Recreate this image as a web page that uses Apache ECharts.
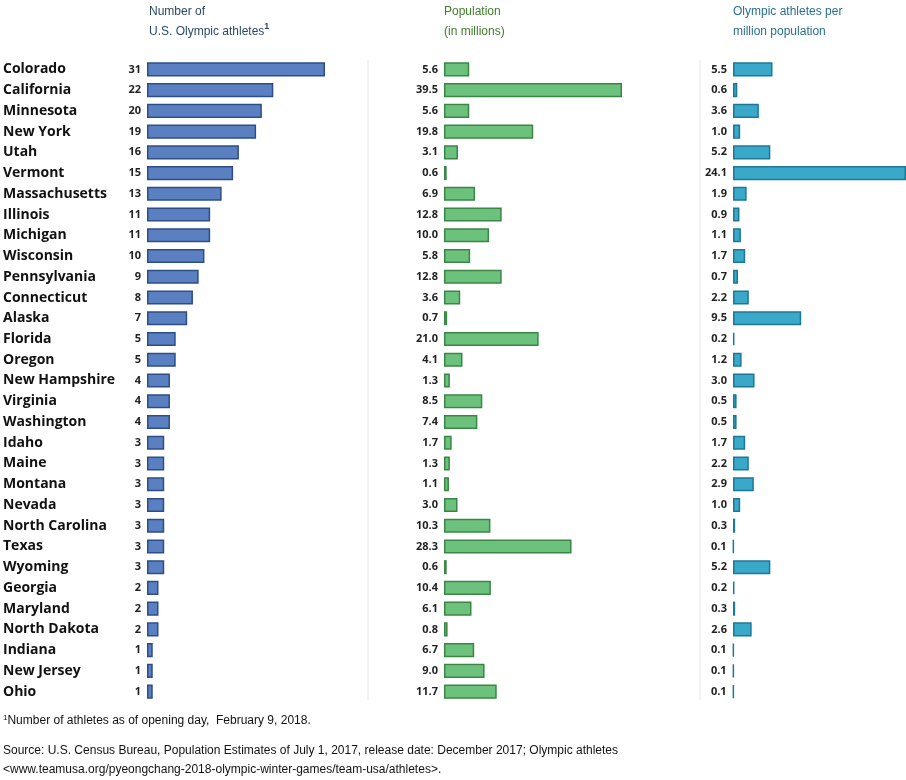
<!DOCTYPE html>
<html><head><meta charset="utf-8">
<script src="https://cdn.jsdelivr.net/npm/echarts@6/dist/echarts.min.js"></script>
<style>html,body{margin:0;padding:0;background:#fff}#c{width:906px;height:780px}</style>
</head><body><div id="c"></div>
<script>
var states = ['Colorado','California','Minnesota','New York','Utah','Vermont','Massachusetts','Illinois','Michigan','Wisconsin','Pennsylvania','Connecticut','Alaska','Florida','Oregon','New Hampshire','Virginia','Washington','Idaho','Maine','Montana','Nevada','North Carolina','Texas','Wyoming','Georgia','Maryland','North Dakota','Indiana','New Jersey','Ohio'];
var athletes = [31,22,20,19,16,15,13,11,11,10,9,8,7,5,5,4,4,4,3,3,3,3,3,3,3,2,2,2,1,1,1];
var population = [5.6,39.5,5.6,19.8,3.1,0.6,6.9,12.8,10.0,5.8,12.8,3.6,0.7,21.0,4.1,1.3,8.5,7.4,1.7,1.3,1.1,3.0,10.3,28.3,0.6,10.4,6.1,0.8,6.7,9.0,11.7];
var perMillion = [5.5,0.6,3.6,1.0,5.2,24.1,1.9,0.9,1.1,1.7,0.7,2.2,9.5,0.2,1.2,3.0,0.5,0.5,1.7,2.2,2.9,1.0,0.3,0.1,5.2,0.2,0.3,2.6,0.1,0.1,0.1];

var font = "'Liberation Sans Narrow','Open Sans',sans-serif";
var chart = echarts.init(document.getElementById('c'));
var top0 = 59, h = 643;
var panels = [
  {left:147, width:178, max:31, data:athletes, fill:'#5b80c2', line:'#2c4d86', dec:0},
  {left:444, width:178, max:39.5, data:population, fill:'#6cc27c', line:'#3a8646', dec:1},
  {left:733, width:173, max:24.1, data:perMillion, fill:'#3aa9c9', line:'#1d7896', dec:1}
];
var grid = [], xAxis = [], yAxis = [], series = [];
panels.forEach(function (p, i) {
  grid.push({left:p.left, top:top0, width:p.width, height:h});
  xAxis.push({gridIndex:i, type:'value', min:0, max:p.max, show:false});
  yAxis.push({gridIndex:i, type:'category', data:states, inverse:true,
    axisLine:{show:false}, axisTick:{show:false},
    axisLabel:{show:i===0, align:'left', margin:144, fontFamily:font, fontWeight:'bold', fontSize:14, color:'#111'}});
  series.push({type:'bar', xAxisIndex:i, yAxisIndex:i, data:p.data, barCategoryGap:'32%',
    itemStyle:{color:p.fill, borderColor:p.line, borderWidth:1.5},
    label:{show:true, position:'left', distance:6, fontFamily:font, fontWeight:'bold', fontSize:11, color:'#222',
      formatter:function (d) { return d.value.toFixed(p.dec); }}});
});
function head(x, lines, color) {
  return {type:'text', left:x, top:2, style:{text:lines, fill:color, font:'bold 14px ' + font, lineHeight:20}};
}
chart.setOption({
  animation:false,
  grid:grid, xAxis:xAxis, yAxis:yAxis, series:series,
  graphic:[
    head(149, 'Number of\nU.S. Olympic athletes{s|1}', '#2b4a63'),
    head(444, 'Population\n(in millions)', '#3f7d2c'),
    head(733, 'Olympic athletes per\nmillion population', '#2a6f8f'),
    {type:'line', shape:{x1:368, y1:60, x2:368, y2:700}, style:{stroke:'#e6e6e6', lineWidth:1}},
    {type:'line', shape:{x1:700, y1:60, x2:700, y2:700}, style:{stroke:'#e6e6e6', lineWidth:1}},
    {type:'text', left:3, top:714, style:{text:'{s|1}Number of athletes as of opening day,  February 9, 2018.', font:'12px ' + font, fill:'#111', rich:{s:{fontSize:8, verticalAlign:'top', padding:[0,0,6,0]}}}},
    {type:'text', left:3, top:741, style:{text:'Source: U.S. Census Bureau, Population Estimates of July 1, 2017, release date: December 2017; Olympic athletes\n<www.teamusa.org/pyeongchang-2018-olympic-winter-games/team-usa/athletes>.', font:'12px ' + font, fill:'#111', lineHeight:19}}
  ]
});
// superscript style for the first header
var opt = chart.getOption();
opt.graphic[0].elements[0].style.rich = {s:{fontSize:9, fontWeight:'bold', fill:'#2b4a63', verticalAlign:'top', padding:[0,0,8,0]}};
chart.setOption({graphic:opt.graphic[0].elements.map(function (e, k) { return k === 0 ? {id:e.id, style:{rich:e.style.rich}} : {id:e.id}; })});
</script></body></html>
